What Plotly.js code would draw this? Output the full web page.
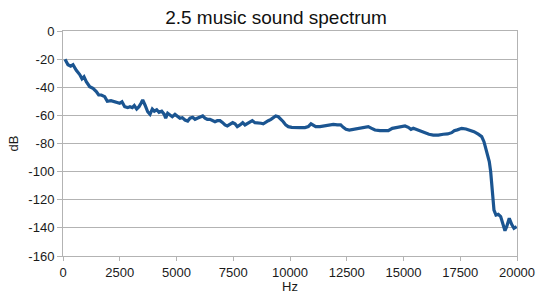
<!DOCTYPE html>
<html>
<head>
<meta charset="utf-8">
<script src="https://cdn.plot.ly/plotly-3.0.1.min.js"></script>
<style>html,body{margin:0;padding:0;background:#fff;}#chart{width:536px;height:294px;}</style>
</head>
<body>
<div id="chart"></div>
<script>
const hz = [88,220,339,440,586,736,837,925,1026,1176,1322,1467,1573,1687,1837,1951,2114,2304,2498,2599,2718,
2850,2951,3053,3141,3246,3348,3436,3511,3612,3731,3832,3934,4022,4128,4229,4348,4462,4524,4612,4714,4815,4934,5053,5154,5255,5374,5493,5594,
5713,5815,5916,6035,6154,6255,6357,6475,6594,6696,6797,6916,7035,7136,7238,7357,7476,7577,7678,7797,7916,8017,8119,8237,8339,8458,
8603,8722,8823,8929,9044,9163,9264,9369,9484,9603,9704,9810,9924,10074,10220,10440,10660,10806,10925,11026,11132,11321,11511,
11687,11907,12083,12233,12347,12466,12612,12788,13008,13228,13448,13598,13744,13964,14184,
14330,14506,14700,14889,15066,15211,15330,15431,15537,15651,15801,15946,16123,16312,16532,16752,16946,
17122,17237,17369,17563,17752,17929,18105,18294,18444,18545,18664,18779,18840,18884,18928,18986,19074,19175,19281,19369,19470,19545,19659,19765,19866,19985];
const dB = [-20,-24,-25,-24,-28,-31,-34,-32.5,-36,-39.6,-40.8,-43,-45.5,-45.5,-46.7,-50,-49.5,-50.3,-51.4,-50.3,-53.8,
-54.5,-53.8,-54.5,-53,-55.5,-53.8,-51.4,-49,-52.6,-57.4,-59.3,-55.5,-57,-56,-57.8,-57,-59.3,-62,-58.5,-59.7,-61,-59.3,-61,-62,-61.6,-63.3,-64,-62,
-61.4,-62.8,-62,-61.4,-60.4,-62,-62.8,-62.8,-63.8,-64.5,-63.8,-63.8,-65.2,-66.8,-67.5,-66,-65.2,-66,-68,-66.8,-65.2,-66.8,-66,-65.2,-63.8,-65.2,
-65.2,-65.6,-66,-65.2,-63.8,-62.8,-61.4,-60.4,-61,-62.8,-64.5,-66.8,-68,-68.5,-68.7,-68.7,-68.7,-68,-66,-66.8,-68,-68,-67.5,
-67,-66.4,-66.8,-66.8,-68.5,-69.9,-70.4,-69.9,-69.2,-68.5,-68,-69.2,-70.4,-70.9,-71,
-70.9,-69.2,-68.5,-68,-67.5,-68.5,-69.9,-69.2,-69.9,-70.4,-71.6,-72.7,-73.4,-74,-74,-73.4,-73.2,
-72.3,-70.9,-70.3,-69.2,-69.7,-70.4,-71.6,-73.4,-75.1,-78.7,-85.8,-92.9,-100,-109.5,-119,-127.3,-130.9,-130.4,-132,-136.7,-142,-139.1,-133.2,-137.5,-140.3,-139.1];
const yTicks = [0,-20,-40,-60,-80,-100,-120,-140,-160];
const yTickText = ['0','-20','-40','-60','-80','-100','-120','-140','-160'];
const xTicks = [0,2500,5000,7500,10000,12500,15000,17500,20000];
const xTickText = ['0','2500','5000','7500','10000','12500','15000','17500','20000'];

Plotly.newPlot('chart', [{
  x: hz, y: dB, type: 'scatter', mode: 'lines',
  line: {color: '#1b5591', width: 3.2, shape: 'linear'},
  hoverinfo: 'skip'
}], {
  width: 536, height: 294,
  margin: {l: 63, r: 19, t: 31, b: 38},
  paper_bgcolor: '#fff', plot_bgcolor: '#fff',
  font: {family: 'Liberation Sans, Arial, sans-serif', size: 13, color: '#1a1a1a'},
  showlegend: false,
  title: {text: '2.5 music sound spectrum', font: {size: 19, color: '#111'}, x: 0.515, xanchor: 'center', y: 0.962, yanchor: 'top'},
  xaxis: {
    range: [0, 20000], tickvals: xTicks, ticktext: xTickText,
    showgrid: false, zeroline: false,
    showline: true, mirror: true, linecolor: '#b3b3b3', linewidth: 1,
    ticks: 'outside', ticklen: 4, tickcolor: '#b3b3b3',
    title: {text: 'Hz', standoff: 4, font: {size: 13}}
  },
  yaxis: {
    range: [-160, 0], tickvals: yTicks, ticktext: yTickText,
    showgrid: true, gridcolor: '#b3b3b3', gridwidth: 1, zeroline: false,
    showline: true, mirror: true, linecolor: '#b3b3b3', linewidth: 1,
    ticks: 'outside', ticklen: 5, tickcolor: '#b3b3b3',
    title: {text: 'dB', standoff: 6, font: {size: 13}}
  }
}, {staticPlot: true});
</script>
</body>
</html>
